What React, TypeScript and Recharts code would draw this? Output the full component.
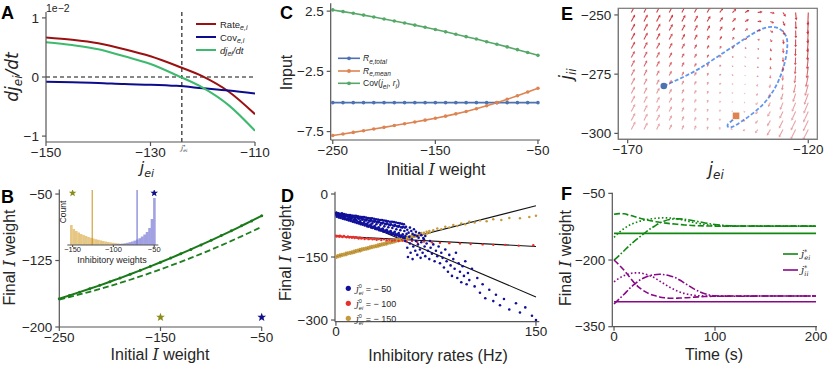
import React from 'react';
import { ComposedChart, Line, Scatter, Bar, XAxis, YAxis, ReferenceLine } from 'recharts';

const SANS = '"Liberation Sans", Arial, Helvetica, sans-serif';
const SERIF = '"DejaVu Serif", "Liberation Serif", serif';
const MATH = '"DejaVu Sans", sans-serif';
const AXIS = '#555';
const TXT = '#262626';

// ---- A: terms of dj/dt ----
const A_J = [-150, -145, -140, -135, -130, -125, -120, -115, -110];
const A_RATE = [0.67, 0.63, 0.57, 0.47, 0.35, 0.19, 0.01, -0.25, -0.63];
const A_COV = [-0.08, -0.09, -0.1, -0.12, -0.13, -0.15, -0.19, -0.23, -0.28];
const A_DJDT = [0.59, 0.54, 0.47, 0.35, 0.22, 0.03, -0.18, -0.48, -0.91];
const A_JSTAR = -124;

// ---- B: final vs initial weight ----
const B_INIT = [-250, -240, -230, -220, -210, -200, -190, -180, -170, -160, -150, -140, -130, -120, -110, -100, -90, -80, -70, -60, -50];
const B_SIM = [-168, -164.4, -160.7, -156.9, -153, -148.9, -144.8, -140.5, -136.1, -131.6, -127, -122.3, -117.4, -112.5, -107.4, -102.2, -96.9, -91.5, -85.9, -80.3, -74.5];
const B_PRED = [-169, -166.2, -163.3, -160.3, -157.1, -153.8, -150.3, -146.7, -142.9, -139, -135, -130.8, -126.5, -122.1, -117.5, -112.8, -107.9, -102.9, -97.7, -92.4, -87];
const B_STARS_OLIVE = [{ x: -150, y: -189 }];
const B_STARS_NAVY = [{ x: -50, y: -189 }];

// inset histogram
const H_BINS = [-151.5, -148.5, -145.5, -142.5, -139.5, -136.5, -133.5, -130.5, -127.5, -124.5, -121.5, -118.5, -115.5, -112.5, -109.5, -106.5, -103.5, -100.5, -97.5, -94.5, -91.5, -88.5, -85.5, -82.5, -79.5, -76.5, -73.5, -70.5, -67.5, -64.5, -61.5, -58.5, -55.5, -52.5, -49.5];
const H_LOW = [20, 16, 14, 12.5, 11, 10, 9, 8, 7.2, 6.5, 5.8, 5.2, 4.6, 4, 3.5, 3, 2.6, 2.2, 1.9, 1.6, 1.3, 1.1, 0.9, 0.7, 0.5, 0.4, 0.3, 0.2, 0.1, 0, 0, 0, 0, 0, 0];
const H_HIGH = [0, 0, 0, 0, 0, 0, 0, 0, 0, 0, 0, 0, 0, 0, 0, 0, 0, 0.3, 0.5, 0.7, 1, 1.3, 1.7, 2.2, 2.8, 3.5, 4.4, 5.5, 6.8, 8.5, 10.5, 13, 17, 26, 47];
const H_MEAN_LOW = -126;
const H_MEAN_HIGH = -71;
const H_STARS_OLIVE = [{ c: -150, s: 52 }];
const H_STARS_NAVY = [{ c: -50, s: 52 }];

// ---- C: inputs vs initial weight ----
const C_W = [-250, -240, -230, -220, -210, -200, -190, -180, -170, -160, -150, -140, -130, -120, -110, -100, -90, -80, -70, -60, -50];
const C_TOTAL = -5.1;
const C_MEAN = [-7.83, -7.7, -7.57, -7.43, -7.29, -7.15, -7.0, -6.85, -6.7, -6.55, -6.4, -6.22, -6.03, -5.83, -5.6, -5.36, -5.1, -4.82, -4.53, -4.22, -3.9];
const C_COV = [2.6, 2.46, 2.32, 2.17, 2.01, 1.85, 1.68, 1.51, 1.34, 1.16, 0.97, 0.78, 0.58, 0.38, 0.18, -0.04, -0.25, -0.47, -0.7, -0.93, -1.17];

// ---- D: final weight vs inhibitory rate (rate, weight) ----
const D_BLUE: [number, number][] = [
  [0, -45], [0.3, -50], [0.6, -54], [1.5, -46], [1.8, -52], [2.1, -56], [3, -47], [3.3, -51], [3.6, -57], [4.5, -46], [4.8, -54], [5.1, -59],
  [6, -48], [6.3, -55], [6.6, -60], [7.5, -49], [7.8, -53], [8.1, -61], [9, -50], [9.3, -57], [9.6, -63], [10.5, -50], [10.8, -59], [11.1, -64],
  [12, -51], [12.3, -56], [12.6, -66], [13.5, -52], [13.8, -60], [14.1, -67], [15, -52], [15.3, -62], [15.6, -69], [16.5, -53], [16.8, -58], [17.1, -70],
  [18, -54], [18.3, -64], [18.6, -72], [19.5, -55], [19.8, -61], [20.1, -73], [21, -55], [21.3, -66], [21.6, -75], [22.5, -56], [22.8, -63], [23.1, -71], [23.4, -77],
  [24, -57], [24.3, -68], [24.6, -78], [25.5, -58], [25.8, -65], [26.1, -73], [26.4, -80], [27, -58], [27.3, -70], [27.6, -81], [28.5, -59], [28.8, -66], [29.1, -76], [29.4, -83],
  [30, -60], [30.3, -72], [30.6, -84], [31.5, -61], [31.8, -68], [32.1, -79], [32.4, -86], [33, -62], [33.3, -74], [33.6, -87], [34.5, -62], [34.8, -70], [35.1, -82], [35.4, -89],
  [36, -63], [36.3, -77], [36.6, -90], [37.5, -64], [37.8, -72], [38.1, -85], [38.4, -92], [39, -65], [39.3, -79], [39.6, -93], [40.5, -66], [40.8, -74], [41.1, -88], [41.4, -95],
  [42, -66], [42.3, -81], [42.6, -96], [43.5, -67], [43.8, -76], [44.1, -90], [44.4, -98], [45, -68], [45.3, -84], [45.6, -99], [46.5, -69], [46.8, -78], [47.1, -93], [47.4, -101],
  [48, -70], [48.3, -86], [48.6, -102], [49.5, -71], [49.8, -80], [50.1, -96], [50.4, -104], [51, -72], [51.3, -88], [51.6, -105],
  [0.8, -48], [1.1, -52], [2.3, -49], [2.6, -55], [3.8, -50], [4.1, -53], [5.3, -52], [5.6, -57], [6.8, -51], [7.1, -58], [8.3, -53], [8.6, -60],
  [9.8, -54], [10.1, -61], [11.3, -55], [11.6, -62], [12.8, -54], [13.1, -64], [14.3, -57], [14.6, -63], [15.8, -56], [16.1, -66], [17.3, -59], [17.6, -67],
  [18.8, -58], [19.1, -69], [20.3, -60], [20.6, -70], [21.8, -61], [22.1, -72], [23.3, -60], [23.6, -74], [24.8, -63], [25.1, -75], [26.3, -62], [26.6, -77],
  [27.8, -65], [28.1, -78], [29.3, -64], [29.6, -80], [30.8, -67], [31.1, -81], [32.3, -66], [32.6, -83], [33.8, -69], [34.1, -84], [35.3, -68], [35.6, -86],
  [36.8, -71], [37.1, -87], [38.3, -70], [38.6, -89], [39.8, -73], [40.1, -90], [41.3, -72], [41.6, -92], [42.8, -75], [43.1, -93], [44.3, -74], [44.6, -95],
  [45.8, -77], [46.1, -96], [47.3, -76], [47.6, -98], [48.8, -79], [49.1, -99], [50.3, -78], [50.6, -101], [51.8, -80], [52.1, -100],
  [52.5, -78], [53.5, -85], [54.5, -92], [55.5, -80], [56.5, -88], [57.5, -95], [58.5, -84], [60, -90], [61, -100], [62.5, -93], [64, -98], [65.5, -105], [67, -100],
  [52, -112], [53, -95], [53.5, -128], [54, -150], [55, -102], [55.5, -118], [56, -140], [57, -108], [57.5, -155], [58, -125], [59, -98], [59.5, -135],
  [60, -112], [61, -145], [61.5, -120], [62, -104], [63, -132], [63.5, -152], [64, -115], [65, -140], [66, -108], [66.5, -125], [67, -148], [68, -118],
  [69, -135], [70, -155], [70.5, -112], [71, -128], [72, -142], [73, -120], [74, -160], [75, -135], [76, -148], [77, -125], [78, -165], [79, -140], [80, -152],
  [81, -175], [82, -132], [83, -160], [84, -185], [85, -145], [86, -170], [87, -195], [88, -155], [89, -178], [90, -140], [91, -200], [92, -165],
  [93, -185], [94, -210], [95, -172], [96, -195], [97, -160], [98, -215], [99, -188], [100, -205], [102, -178], [104, -220],
  [106, -200], [108, -235], [110, -215], [112, -248], [115, -228], [118, -255], [120, -240], [123, -265], [126, -250], [130, -275], [135, -260], [138, -282], [142, -270], [147, -290], [150, -300],
];
const D_RED: [number, number][] = [
  [0, -99], [0.5, -101], [1.5, -100], [2.5, -102], [3, -99.5], [4, -101], [5, -102.5], [6, -100], [7, -102], [8, -103], [9, -101], [10, -103.5],
  [11, -102], [12, -104], [13, -102.5], [14, -105], [15, -103], [16, -104.5], [17, -106], [18, -104], [19, -106], [20, -105], [21.5, -107], [23, -105.5],
  [24.5, -107.5], [26, -106], [27.5, -108], [29, -107], [30.5, -109], [32, -107.5], [34, -109.5], [36, -108], [38, -110], [40, -109], [42, -111], [44, -110],
  [47, -112], [50, -111], [53, -113], [57, -112], [61, -114], [66, -113], [72, -115], [78, -116], [85, -117], [93, -118], [101, -119], [110, -120],
  [118, -121], [127, -121], [137, -123], [148, -122],
];
const D_GOLD: [number, number][] = [
  [0, -147], [0.4, -152], [1.5, -146], [1.9, -150], [3, -144], [3.4, -149], [4.5, -143], [4.9, -147], [6, -142], [6.4, -146], [7.5, -140], [7.9, -145],
  [9, -139], [9.4, -143], [10.5, -138], [10.9, -142], [12, -137], [12.4, -141], [13.5, -135], [13.9, -140], [15, -134], [15.4, -138], [16.5, -133], [16.9, -137],
  [18, -131], [18.4, -136], [19.5, -130], [19.9, -134], [21, -129], [21.4, -133], [22.5, -128], [22.9, -132], [24, -127], [24.4, -131], [25.5, -125], [25.9, -129],
  [27, -124], [27.4, -128], [28.5, -123], [28.9, -127], [30, -122], [30.4, -126], [31.5, -120], [31.9, -125], [33, -119], [33.4, -123], [34.5, -118], [34.9, -122],
  [36, -117], [36.4, -121], [37.5, -115], [37.9, -120], [39, -114], [39.4, -118], [40.5, -113], [40.9, -117], [42, -112], [42.4, -116], [43.5, -110], [43.9, -115],
  [45, -109], [45.4, -113], [46.5, -108], [46.9, -112], [48, -107], [48.4, -111], [49.5, -105], [49.9, -110], [51, -104], [51.4, -108], [52.5, -103], [52.9, -107],
  [54, -102], [54.4, -106], [55.5, -100], [55.9, -105], [57, -99], [57.4, -103], [58.5, -98], [58.9, -102], [60, -97], [60.4, -101], [62, -95], [62.4, -99],
  [64, -93], [64.4, -97], [66, -92], [66.4, -96], [68, -90], [68.4, -94], [70, -88], [70.4, -92],
  [73, -86], [76, -82], [79, -84], [82, -78], [85, -80], [88, -74], [91, -76], [94, -70], [97, -72], [100, -66], [104, -68], [108, -63], [113, -65],
  [118, -60], [124, -62], [130, -57], [138, -58], [145, -55], [150, -52],
];
const D_FIT_BLUE = [{ x: 0, y: -42 }, { x: 150, y: -245 }];
const D_FIT_RED = [{ x: 0, y: -100 }, { x: 150, y: -125 }];
const D_FIT_GOLD = [{ x: 0, y: -149 }, { x: 150, y: -28 }];

// ---- E: phase plane ----
const Q_JEI = [-169, -165.5, -162, -158.5, -155, -151.5, -148, -144.5, -141, -137.5, -134, -130.5, -127, -123.5, -120];
const Q_JII = [-249, -252.8, -256.6, -260.4, -264.2, -268, -271.8, -275.6, -279.4, -283.2, -287, -290.8, -294.6, -298.4];
const Q_ANG = [
  [62, 62, 62, 62, 62, 62, 60, 55, 45, 30, 10, -10, -55, -85, -92],
  [62, 62, 62, 62, 62, 62, 60, 55, 45, 30, 5, -20, -65, -87, -93],
  [62, 62, 62, 62, 62, 62, 62, 58, 50, 35, 5, -35, -72, -88, -93],
  [62, 62, 62, 62, 62, 62, 62, 60, 55, 40, -10, -55, -80, -90, -94],
  [62, 62, 62, 62, 62, 62, 62, 62, 60, 50, -30, -70, -85, -92, -95],
  [62, 62, 62, 62, 62, 62, 64, 65, 65, 60, -60, -80, -88, -93, -96],
  [63, 63, 63, 63, 63, 63, 65, 68, 70, 70, -80, -85, -90, -95, -98],
  [63, 63, 63, 63, 63, 64, 66, 70, 75, 90, -100, -95, -95, -98, -102],
  [63, 63, 63, 63, 64, 65, 68, 72, 80, 110, -120, -105, -100, -103, -106],
  [63, 63, 63, 63, 64, 65, 68, 75, 90, 150, -130, -115, -108, -108, -110],
  [63, 63, 63, 63, 64, 66, 70, 78, 100, 180, -135, -118, -112, -112, -113],
  [63, 63, 63, 64, 65, 67, 72, 80, 110, 200, -130, -120, -116, -115, -115],
  [63, 63, 63, 64, 65, 68, 74, 85, 130, 200, -128, -120, -117, -116, -116],
  [63, 63, 64, 64, 66, 70, 76, 90, 150, 210, -125, -120, -118, -117, -117],
];
const Q_LEN = [
  [8, 8, 8, 8, 8, 7.5, 7, 6, 5.5, 5, 5, 4.5, 5, 8, 13],
  [8, 8, 8, 8, 7.5, 7, 6.5, 5.5, 5, 4.5, 4, 4, 5, 8, 13],
  [8, 8, 8, 7.5, 7, 6.5, 6, 5, 4, 3.5, 3, 3.5, 5, 8, 13],
  [8, 8, 7.5, 7, 6.5, 6, 5, 4, 3, 2.5, 2, 3, 5, 8, 13],
  [8, 7.5, 7, 6.5, 6, 5, 4, 3, 2, 1.5, 1.5, 3, 5, 8, 12],
  [7.5, 7, 6.5, 6, 5, 4.5, 3.5, 2.5, 1.5, 1, 1.5, 3, 5, 8, 12],
  [7.5, 7, 6.5, 5.5, 5, 4, 3, 2, 1, 0.8, 1.5, 3, 5, 8, 12],
  [7.5, 7, 6, 5.5, 4.5, 4, 3, 2, 1, 0.6, 1.5, 3, 5.5, 8, 12],
  [8, 7, 6, 5.5, 4.5, 4, 3, 2, 1, 0.6, 2, 3.5, 6, 9, 12],
  [8, 7, 6.5, 5.5, 5, 4, 3, 2, 1, 0.8, 2.5, 4, 7, 9, 12],
  [8, 7.5, 6.5, 6, 5, 4, 3, 2, 1, 1, 3, 5, 8, 10, 12],
  [8.5, 7.5, 7, 6, 5, 4, 3, 2, 1, 1.5, 3.5, 6, 8, 10, 12],
  [8.5, 8, 7, 6, 5, 4, 3, 2, 1.5, 2, 4, 6.5, 9, 11, 12],
  [9, 8, 7, 6, 5, 4.5, 3.5, 2.5, 2, 2.5, 4.5, 7, 9, 11, 12],
];
const Q_ALPHA = [0.95, 0.95, 0.9, 0.9, 0.85, 0.8, 0.75, 0.65, 0.55, 0.5, 0.45, 0.45, 0.45, 0.45];
const E_TRAJ = [
  { x: -160, y: -280 }, { x: -155, y: -276.5 }, { x: -150, y: -272.5 }, { x: -145, y: -267.5 }, { x: -140, y: -262.5 },
  { x: -136, y: -258.5 }, { x: -132, y: -255.5 }, { x: -128.5, y: -255.5 }, { x: -126.3, y: -258.5 }, { x: -125.8, y: -263 },
  { x: -126.5, y: -270 }, { x: -128.3, y: -278 }, { x: -131, y: -285 }, { x: -134.5, y: -290.5 }, { x: -138.5, y: -295 },
  { x: -141.5, y: -297.5 }, { x: -142.3, y: -296.3 }, { x: -141, y: -294.5 }, { x: -140, y: -293 },
];
const E_START = [{ x: -160, y: -280 }];
const E_FIXED = [{ x: -140, y: -292.6 }];

// ---- F: weights over time ----
const F_T = [0, 5, 10, 15, 20, 25, 30, 35, 40, 45, 50, 55, 60, 65, 70, 80, 90, 100, 120, 150, 200];
const F_EI_STAR = -140;
const F_II_STAR = -294;
const F_EI_DASH = [-97, -95.5, -96, -99, -102, -105.5, -108.5, -111, -113, -115, -116.5, -118, -119, -120, -121, -122.5, -123.2, -123.6, -123.6, -123.6, -123.6];
const F_EI_DOT = [-149, -138, -129, -122, -117, -113, -110, -108, -106.5, -105.5, -105, -105.5, -106.5, -108.5, -111, -116, -120, -122.5, -123.6, -123.6, -123.6];
const F_EI_DASHDOT = [-200, -190, -179, -168, -158, -149, -140, -131, -124, -117, -112, -109, -107.5, -107.5, -108.5, -112, -116.5, -120, -123.3, -123.6, -123.6];
const F_II_DASH = [-200, -211, -223, -237, -251, -262, -270, -276, -280, -283, -285, -286, -286, -285.5, -285, -283.5, -282, -281.5, -281, -281, -281];
const F_II_DOT = [-249, -241, -235, -231, -229, -229, -231, -235, -240, -247, -254, -261, -267, -272, -275.5, -279.5, -281, -281.5, -281, -281, -281];
const F_II_DASHDOT = [-299, -288, -277, -265, -255, -246, -240, -235.5, -233, -232, -233, -235.5, -239, -245, -252, -266, -276, -280.5, -281.5, -281, -281];

const aData = A_J.map((j, i) => ({ j, rate: A_RATE[i], cov: A_COV[i], djdt: A_DJDT[i] }));
const bData = B_INIT.map((x, i) => ({ x, sim: B_SIM[i], pred: B_PRED[i] }));
const hData = H_BINS.map((c, i) => ({ c, low: H_LOW[i], high: H_HIGH[i] }));
const cData = C_W.map((w, i) => ({ w, total: C_TOTAL, mean: C_MEAN[i], cov: C_COV[i] }));
const toPts = (arr: [number, number][]) => arr.map(([x, y]) => ({ x, y }));
const quiverData = Q_JII.flatMap((jii, r) =>
  Q_JEI.map((jei, c) => ({ x: jei, y: jii, ang: Q_ANG[r][c], len: Q_LEN[r][c], op: Q_ALPHA[r] }))
);
const fData = F_T.map((t, i) => ({
  t, eiStar: F_EI_STAR, iiStar: F_II_STAR,
  eiDash: F_EI_DASH[i], eiDot: F_EI_DOT[i], eiDashDot: F_EI_DASHDOT[i],
  iiDash: F_II_DASH[i], iiDot: F_II_DOT[i], iiDashDot: F_II_DASHDOT[i],
}));

const fmt = (v: number) => (v < 0 ? '\u2212' + Math.abs(v) : String(v));

const axisProps = {
  axisLine: { stroke: AXIS, strokeWidth: 1.2 },
  tickLine: { stroke: AXIS, strokeWidth: 1.2 },
  tickSize: 4,
  tickMargin: 3,
  tick: { fontSize: 13.5, fill: TXT, fontFamily: SANS },
  tickFormatter: fmt,
  interval: 0 as const,
  allowDataOverflow: true,
};
const xAxisProps = { ...axisProps, tickMargin: 1 };

const Star = (p: any) => {
  const { cx, cy, fill, R = 4.6 } = p;
  const pts: string[] = [];
  for (let i = 0; i < 10; i++) {
    const a = -Math.PI / 2 + (i * Math.PI) / 5;
    const rr = i % 2 ? R * 0.42 : R;
    pts.push(`${cx + rr * Math.cos(a)},${cy + rr * Math.sin(a)}`);
  }
  return <polygon points={pts.join(' ')} fill={fill} />;
};

const Arrow = (p: any) => {
  const { cx, cy, payload } = p;
  const a = (payload.ang * Math.PI) / 180;
  const L = payload.len;
  const ux = Math.cos(a);
  const uy = -Math.sin(a);
  const hx = cx + ux * L;
  const hy = cy + uy * L;
  const hl = Math.min(2.6, L * 0.5);
  const hw = 1.4;
  const bx = hx - ux * hl;
  const by = hy - uy * hl;
  return (
    <g opacity={payload.op}>
      <line x1={cx} y1={cy} x2={bx} y2={by} stroke="#cc2f35" strokeWidth={1.05} />
      <polygon points={`${hx},${hy} ${bx - uy * hw},${by + ux * hw} ${bx + uy * hw},${by - ux * hw}`} fill="#cc2f35" />
    </g>
  );
};

const dotShape = (color: string, r = 1.15) => (p: any) => <circle cx={p.cx} cy={p.cy} r={r} fill={color} />;

// histogram bar: centred on the bin, drawn full bin width (3 units ≈ 2.5px)
const HistBar = (p: any) => {
  const { x, y, width, height, fill, fillOpacity } = p;
  if (!height || height <= 0) return null;
  const mid = x + width / 2;
  return <rect x={mid - 1.3} y={y} width={2.6} height={height} fill={fill} fillOpacity={fillOpacity} />;
};

const IWeight = ({ prefix }: { prefix: string }) => (
  <>
    {prefix}
    <tspan fontFamily={SERIF} fontStyle="italic">I</tspan> weight
  </>
);

export default function App() {
  return (
    <div style={{ position: 'absolute', left: 0, top: 0, width: 830, height: 369, background: '#fff', fontFamily: SANS }}>
      {/* A */}
      <div style={{ position: 'absolute', left: 0, top: 0 }}>
        <ComposedChart width={280} height={185} data={aData} margin={{ top: 12, right: 25, bottom: 13, left: 6 }}>
          <XAxis dataKey="j" type="number" domain={[-150, -110]} ticks={[-150, -130, -110]} height={30} {...xAxisProps} />
          <YAxis type="number" domain={[-1.1, 1.1]} ticks={[-1, 0, 1]} width={40} {...axisProps} />
          <ReferenceLine y={0} stroke="#111" strokeDasharray="4 3" strokeWidth={1.1} />
          <ReferenceLine x={A_JSTAR} stroke="#111" strokeDasharray="4 3" strokeWidth={1.1} />
          <Line type="monotone" dataKey="rate" stroke="#9b1010" strokeWidth={2} dot={false} isAnimationActive={false} />
          <Line type="monotone" dataKey="cov" stroke="#0c0c8c" strokeWidth={2} dot={false} isAnimationActive={false} />
          <Line type="monotone" dataKey="djdt" stroke="#3dba6e" strokeWidth={2} dot={false} isAnimationActive={false} />
        </ComposedChart>
      </div>

      {/* B */}
      <div style={{ position: 'absolute', left: 0, top: 180 }}>
        <ComposedChart width={280} height={189} data={bData} margin={{ top: 9.6, right: 18.3, bottom: 12, left: 9.3 }}>
          <XAxis dataKey="x" type="number" domain={[-250, -50]} ticks={[-250, -150, -50]} height={30} {...xAxisProps} allowDataOverflow={false} />
          <YAxis type="number" domain={[-200, -45]} ticks={[-200, -125, -50]} width={50} {...axisProps} allowDataOverflow={false} />
          <Line type="monotone" dataKey="pred" stroke="#1f7f1f" strokeWidth={1.8} strokeDasharray="6 3" dot={false} isAnimationActive={false} />
          <Line type="monotone" dataKey="sim" stroke="#1a7a1a" strokeWidth={2} dot={{ r: 1.5, fill: '#1a7a1a', strokeWidth: 0 }} isAnimationActive={false} />
          <Scatter data={B_STARS_OLIVE} dataKey="y" fill="#8c8c1c" shape={Star} isAnimationActive={false} />
          <Scatter data={B_STARS_NAVY} dataKey="y" fill="#101088" shape={Star} isAnimationActive={false} />
        </ComposedChart>
      </div>

      {/* B inset */}
      <div style={{ position: 'absolute', left: 60, top: 185 }}>
        <ComposedChart width={105} height={75} data={hData} margin={{ top: 5, right: 6.7, bottom: 0, left: 7.3 }}>
          <XAxis xAxisId="lo" dataKey="c" type="number" domain={[-156.5, -45]} ticks={[-150, -100, -50]} height={15}
            {...axisProps} tickSize={2} tickMargin={0} tick={{ fontSize: 7.5, fill: TXT, fontFamily: SANS }} />
          <XAxis xAxisId="hi" dataKey="c" type="number" domain={[-156.5, -45]} orientation="top" height={0} hide />
          <YAxis type="number" domain={[0, 55]} width={0} tick={false} tickLine={false} axisLine={{ stroke: AXIS }} allowDataOverflow />
          <Bar xAxisId="lo" dataKey="low" fill="#e2bd6e" fillOpacity={0.85} barSize={2} shape={HistBar} isAnimationActive={false} />
          <Bar xAxisId="hi" dataKey="high" fill="#7070d4" fillOpacity={0.65} barSize={2} shape={HistBar} isAnimationActive={false} />
          <ReferenceLine xAxisId="lo" x={H_MEAN_LOW} stroke="#c8901a" strokeWidth={1} />
          <ReferenceLine xAxisId="lo" x={H_MEAN_HIGH} stroke="#7b7bd6" strokeWidth={1.2} />
          <Scatter xAxisId="lo" data={H_STARS_OLIVE} dataKey="s" fill="#8c8c1c" shape={(p: any) => <Star {...p} R={4} />} isAnimationActive={false} />
          <Scatter xAxisId="lo" data={H_STARS_NAVY} dataKey="s" fill="#101088" shape={(p: any) => <Star {...p} R={4} />} isAnimationActive={false} />
        </ComposedChart>
      </div>

      {/* C */}
      <div style={{ position: 'absolute', left: 280, top: 0 }}>
        <ComposedChart width={280} height={180} data={cData} margin={{ top: 3.3, right: 20, bottom: 10, left: 8.7 }}>
          <XAxis dataKey="w" type="number" domain={[-252, -48]} ticks={[-250, -150, -50]} height={30} {...xAxisProps} />
          <YAxis type="number" domain={[-8.2, 3.15]} ticks={[-7.5, -2.5, 2.5]} width={42} {...axisProps} />
          <Line type="linear" dataKey="total" stroke="#4c72b0" strokeWidth={1.6} dot={{ r: 1.8, fill: '#4c72b0', strokeWidth: 0 }} isAnimationActive={false} />
          <Line type="linear" dataKey="mean" stroke="#dd8452" strokeWidth={1.6} dot={{ r: 1.8, fill: '#dd8452', strokeWidth: 0 }} isAnimationActive={false} />
          <Line type="linear" dataKey="cov" stroke="#55a868" strokeWidth={1.6} dot={{ r: 1.8, fill: '#55a868', strokeWidth: 0 }} isAnimationActive={false} />
        </ComposedChart>
      </div>

      {/* D */}
      <div style={{ position: 'absolute', left: 280, top: 180 }}>
        <ComposedChart width={280} height={189} margin={{ top: 11.7, right: 20.7, bottom: 17.3, left: 10 }}>
          <XAxis dataKey="x" type="number" domain={[-0.7, 152.5]} ticks={[0, 150]} height={30} {...xAxisProps} />
          <YAxis dataKey="y" type="number" domain={[-304, 5.5]} ticks={[-300, -150, 0]} width={45} {...axisProps} />
          <Scatter data={toPts(D_GOLD)} shape={dotShape('#c59a3c', 1.25)} isAnimationActive={false} />
          <Scatter data={toPts(D_RED)} shape={dotShape('#e8302a', 1.2)} isAnimationActive={false} />
          <Scatter data={toPts(D_BLUE)} shape={dotShape('#10109a', 1.3)} isAnimationActive={false} />
          <ReferenceLine segment={D_FIT_BLUE} stroke="#111" strokeWidth={1.1} />
          <ReferenceLine segment={D_FIT_RED} stroke="#111" strokeWidth={1.1} />
          <ReferenceLine segment={D_FIT_GOLD} stroke="#111" strokeWidth={1.1} />
        </ComposedChart>
      </div>

      {/* E */}
      <div style={{ position: 'absolute', left: 560, top: 0 }}>
        <ComposedChart width={270} height={180} margin={{ top: 8.3, right: 12.7, bottom: 10.7, left: 13.3 }}>
          <XAxis dataKey="x" type="number" domain={[-172.6, -117.5]} ticks={[-170, -120]} height={30} {...xAxisProps} axisLine={{ stroke: '#777' }} />
          <YAxis dataKey="y" type="number" domain={[-302.5, -247.2]} ticks={[-300, -275, -250]} width={45} {...axisProps} axisLine={{ stroke: '#777' }} />
          <Scatter data={quiverData} shape={Arrow} isAnimationActive={false} />
          <Line data={E_TRAJ} dataKey="y" type="natural" stroke="#6495ed" strokeWidth={1.8} strokeDasharray="4 2" dot={false} isAnimationActive={false} />
          <Scatter data={E_START} shape={(p: any) => <circle cx={p.cx} cy={p.cy} r={3.3} fill="#4c72b0" />} isAnimationActive={false} />
          <Scatter data={E_FIXED} shape={(p: any) => <rect x={p.cx - 3.3} y={p.cy - 3.3} width={6.6} height={6.6} fill="#dd8452" />} isAnimationActive={false} />
        </ComposedChart>
      </div>

      {/* F */}
      <div style={{ position: 'absolute', left: 560, top: 180 }}>
        <ComposedChart width={270} height={189} data={fData} margin={{ top: 12.7, right: 13, bottom: 12.3, left: 7.3 }}>
          <XAxis dataKey="t" type="number" domain={[-1.7, 201]} ticks={[0, 100, 200]} height={30} {...xAxisProps} />
          <YAxis type="number" domain={[-350, -48.5]} ticks={[-350, -200, -50]} width={45} {...axisProps} />
          <Line type="linear" dataKey="eiStar" stroke="#118811" strokeWidth={1.6} dot={false} isAnimationActive={false} />
          <Line type="linear" dataKey="iiStar" stroke="#880888" strokeWidth={1.6} dot={false} isAnimationActive={false} />
          <Line type="monotone" dataKey="eiDash" stroke="#118811" strokeWidth={1.6} strokeDasharray="6 2.5" dot={false} isAnimationActive={false} />
          <Line type="monotone" dataKey="eiDot" stroke="#118811" strokeWidth={1.6} strokeDasharray="1.6 2.2" dot={false} isAnimationActive={false} />
          <Line type="monotone" dataKey="eiDashDot" stroke="#118811" strokeWidth={1.6} strokeDasharray="7 2 1.6 2" dot={false} isAnimationActive={false} />
          <Line type="monotone" dataKey="iiDash" stroke="#880888" strokeWidth={1.6} strokeDasharray="6 2.5" dot={false} isAnimationActive={false} />
          <Line type="monotone" dataKey="iiDot" stroke="#880888" strokeWidth={1.6} strokeDasharray="1.6 2.2" dot={false} isAnimationActive={false} />
          <Line type="monotone" dataKey="iiDashDot" stroke="#880888" strokeWidth={1.6} strokeDasharray="7 2 1.6 2" dot={false} isAnimationActive={false} />
        </ComposedChart>
      </div>

      {/* titles, axis labels, legends */}
      <svg width={830} height={369} style={{ position: 'absolute', left: 0, top: 0, pointerEvents: 'none' }} fontFamily={SANS} fill={TXT}>
        <g fontSize={18} fontWeight="bold" fill="#000">
          <text x={1} y={18.5}>A</text>
          <text x={1} y={203}>B</text>
          <text x={280} y={18.5}>C</text>
          <text x={281} y={201.5}>D</text>
          <text x={561} y={20}>E</text>
          <text x={561} y={200}>F</text>
        </g>

        {/* A */}
        <text x={46} y={11.5} fontSize={10.5}>1e{'\u2212'}2</text>
        <text transform="translate(18,77) rotate(-90)" textAnchor="middle" fontFamily={MATH} fontStyle="italic" fontSize={17}>
          dj<tspan fontSize={12} dy={4}>ei</tspan><tspan dy={-4}>/dt</tspan>
        </text>
        <text x={147} y={173} textAnchor="middle" fontFamily={MATH} fontStyle="italic" fontSize={16}>
          j<tspan fontSize={11} dy={4}>ei</tspan>
        </text>
        <text x={181} y={150} fontFamily={SERIF} fontStyle="italic" fontSize={6.5}>
          j<tspan dy={-2.5} fontSize={4.5}>*</tspan><tspan dx={-2} dy={4} fontSize={4.5}>ei</tspan>
        </text>
        <g fontSize={9.5}>
          <line x1={196} x2={216} y1={24} y2={24} stroke="#9b1010" strokeWidth={2} />
          <text x={220} y={27.5}>Rate<tspan fontSize={7} dy={2.5} fontStyle="italic">e,i</tspan></text>
          <line x1={196} x2={216} y1={37} y2={37} stroke="#0c0c8c" strokeWidth={2} />
          <text x={220} y={40.5}>Cov<tspan fontSize={7} dy={2.5} fontStyle="italic">e,i</tspan></text>
          <line x1={196} x2={216} y1={50} y2={50} stroke="#3dba6e" strokeWidth={2} />
          <text x={220} y={53.5} fontStyle="italic">dj<tspan fontSize={7} dy={2.5}>ei</tspan><tspan dy={-2.5}>/dt</tspan></text>
        </g>

        {/* B */}
        <text transform="translate(15,257.5) rotate(-90)" textAnchor="middle" fontSize={16}><IWeight prefix="Final " /></text>
        <text x={160} y={360} textAnchor="middle" fontSize={16}><IWeight prefix="Initial " /></text>
        <text transform="translate(65.5,212) rotate(-90)" textAnchor="middle" fontSize={8.5}>Count</text>
        <text x={112} y={263} textAnchor="middle" fontSize={9}>Inhibitory weights</text>

        {/* C */}
        <text transform="translate(292,72.5) rotate(-90)" textAnchor="middle" fontSize={16}>Input</text>
        <text x={436} y={174.5} textAnchor="middle" fontSize={16}><IWeight prefix="Initial " /></text>
        <g fontSize={8.5}>
          <line x1={338} x2={360} y1={58.3} y2={58.3} stroke="#4c72b0" strokeWidth={1.6} />
          <circle cx={349} cy={58.3} r={1.9} fill="#4c72b0" />
          <text x={363} y={61.3} fontStyle="italic">R<tspan fontSize={6.5} dy={2.2}>e,total</tspan></text>
          <line x1={338} x2={360} y1={71} y2={71} stroke="#dd8452" strokeWidth={1.6} />
          <circle cx={349} cy={71} r={1.9} fill="#dd8452" />
          <text x={363} y={74} fontStyle="italic">R<tspan fontSize={6.5} dy={2.2}>e,mean</tspan></text>
          <line x1={338} x2={360} y1={83.3} y2={83.3} stroke="#55a868" strokeWidth={1.6} />
          <circle cx={349} cy={83.3} r={1.9} fill="#55a868" />
          <text x={363} y={86.3}>Cov(<tspan fontStyle="italic">j</tspan><tspan fontSize={6.5} dy={2.2} fontStyle="italic">ei</tspan><tspan dy={-2.2}>, </tspan><tspan fontStyle="italic">r</tspan><tspan fontSize={6.5} dy={2.2} fontStyle="italic">i</tspan><tspan dy={-2.2}>)</tspan></text>
        </g>

        {/* D */}
        <text transform="translate(291,253) rotate(-90)" textAnchor="middle" fontSize={16}><IWeight prefix="Final " /></text>
        <text x={438} y={361} textAnchor="middle" fontSize={16}>Inhibitory rates (Hz)</text>
        <g fontSize={9}>
          {[
            { y: 288.3, c: '#10109a', v: '50' },
            { y: 303.3, c: '#e8302a', v: '100' },
            { y: 318.3, c: '#c59a3c', v: '150' },
          ].map((e) => (
            <g key={e.v}>
              <circle cx={348.3} cy={e.y} r={2.6} fill={e.c} />
              <text x={356} y={e.y + 3.2}>
                <tspan fontFamily={SERIF} fontStyle="italic">j</tspan>
                <tspan fontSize={5.5} dy={-3.5}>0</tspan>
                <tspan fontSize={5.5} dx={-3} dy={6.5} fontStyle="italic">ei</tspan>
                <tspan dy={-3}> = {'\u2212'} {e.v}</tspan>
              </text>
            </g>
          ))}
        </g>

        {/* E */}
        <rect x={618.3} y={8.3} width={199} height={131} fill="none" stroke="#777" strokeWidth={1.2} />
        <text transform="translate(572,74) rotate(-90)" textAnchor="middle" fontFamily={MATH} fontStyle="italic" fontSize={17}>
          j<tspan fontSize={12} dy={4}>ii</tspan>
        </text>
        <text x={716} y={175} textAnchor="middle" fontFamily={MATH} fontStyle="italic" fontSize={17}>
          j<tspan fontSize={12} dy={4}>ei</tspan>
        </text>

        {/* F */}
        <text transform="translate(571,258) rotate(-90)" textAnchor="middle" fontSize={16}><IWeight prefix="Final " /></text>
        <text x={714} y={360} textAnchor="middle" fontSize={16}>Time (s)</text>
        <g fontSize={10}>
          <line x1={783} x2={798} y1={254} y2={254} stroke="#118811" strokeWidth={1.6} />
          <text x={801} y={257} fontFamily={SERIF} fontStyle="italic">j<tspan fontSize={6.5} dy={-3.5}>*</tspan><tspan fontSize={6.5} dx={-3} dy={6.5}>ei</tspan></text>
          <line x1={783} x2={798} y1={270} y2={270} stroke="#880888" strokeWidth={1.6} />
          <text x={801} y={273} fontFamily={SERIF} fontStyle="italic">j<tspan fontSize={6.5} dy={-3.5}>*</tspan><tspan fontSize={6.5} dx={-3} dy={6.5}>ii</tspan></text>
        </g>
      </svg>
    </div>
  );
}
